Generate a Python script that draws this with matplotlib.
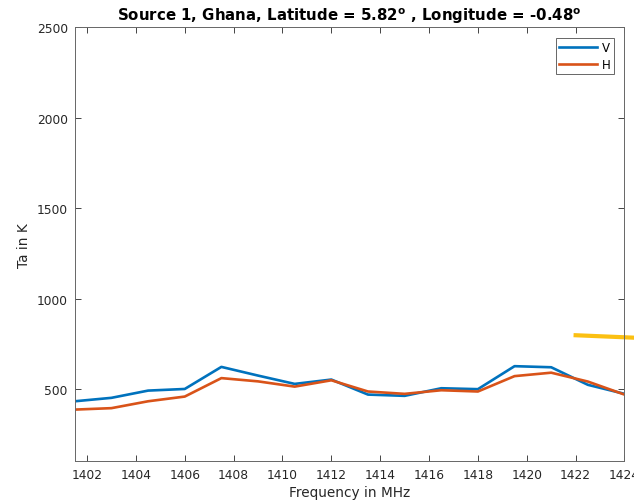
import numpy as np
import matplotlib
matplotlib.use("Agg")
import matplotlib.pyplot as plt

plt.rcParams['font.family'] = ['DejaVu Sans']
plt.rcParams['mathtext.fontset'] = 'dejavusans'

freq = [1401.5, 1403, 1404.5, 1406, 1407.5, 1409, 1410.5, 1412,
        1413.5, 1415, 1416.5, 1418, 1419.5, 1421, 1422.5, 1424]
ta_v = [432, 451, 491, 500, 622, 574, 528, 552,
        469, 462, 504, 499, 626, 620, 523, 473]
ta_h = [386, 394, 432, 458, 560, 542, 513, 548,
        486, 473, 493, 486, 571, 590, 541, 469]
# stray segment drawn past the right edge
extra_x = [1422, 1425]
extra_y = [797, 780]

fig = plt.figure(figsize=(6.34, 5.02), dpi=100)
ax = fig.add_axes([0.118, 0.079, 0.867, 0.865])

ax.plot(freq, ta_v, color='#0072BD', lw=1.9, label='V')
ax.plot(freq, ta_h, color='#D95319', lw=1.9, label='H')
ax.plot(extra_x, extra_y, color='#FBC012', lw=3.0, clip_on=False)

ax.set_xlim(1401.5, 1424)
ax.set_ylim(100, 2500)
ax.set_xticks(np.arange(1402, 1425, 2))
ax.set_yticks([500, 1000, 1500, 2000, 2500])

tc = '#262626'
ax.tick_params(direction='in', top=True, right=True, length=4, width=0.6,
               labelsize=8.8, colors=tc, pad=5)
for s in ax.spines.values():
    s.set_color('#666666')
    s.set_linewidth(0.7)

ax.set_xlabel('Frequency in MHz', fontsize=9.8, color=tc, labelpad=3)
ax.set_ylabel('Ta in K', fontsize=9.8, color=tc, labelpad=4)
ax.set_title('Source 1, Ghana, Latitude = 5.82$^\\mathbf{o}$ , '
             'Longitude = -0.48$^\\mathbf{o}$',
             fontsize=10.8, fontweight='bold', pad=5)

leg = ax.legend(loc='upper right', fontsize=8.5, handlelength=3.2,
                fancybox=False, framealpha=1, borderpad=0.3,
                labelspacing=0.3, borderaxespad=0.9, handletextpad=0.4)
leg.get_frame().set_edgecolor('#666666')
leg.get_frame().set_linewidth(0.7)

fig.savefig('out.png', dpi=100)
